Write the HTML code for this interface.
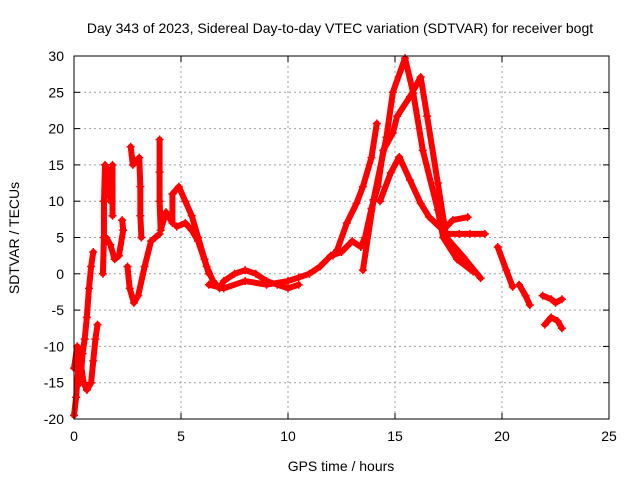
<!DOCTYPE html>
<html><head><meta charset="utf-8"><style>
body{margin:0;background:#fff;}
svg{display:block;font-family:"Liberation Sans",sans-serif;}
</style></head><body>
<svg id="chart" width="640" height="480">
<text x="340" y="33" text-anchor="middle" font-size="14">Day 343 of 2023, Sidereal Day-to-day VTEC variation (SDTVAR) for receiver bogt</text>
<text x="341" y="471" text-anchor="middle" font-size="14">GPS time / hours</text>
<text x="19" y="238" text-anchor="middle" font-size="14" transform="rotate(-90 19 238)">SDTVAR / TECUs</text>
<g id="grid"></g><g id="series"></g>
<rect x="74" y="56" width="535" height="363" fill="none" stroke="#000" stroke-width="1"/>
</svg>
<script>
const xTicks=[0,5,10,15,20,25];
const yTicks=[-20,-15,-10,-5,0,5,10,15,20,25,30];
const segA=[[0,-19.5],[0.1,-17],[0.2,-13],[0.3,-15],[0.4,-11],[0.5,-9],[0.6,-6],[0.7,-2],[0.8,1],[0.9,3]];
const segB=[[0,-13],[0.15,-10],[0.3,-12],[0.45,-15],[0.6,-16],[0.8,-15],[0.9,-12],[1.0,-9],[1.1,-7]];
const segC=[[1.35,0],[1.4,5],[1.4,10],[1.45,15],[1.6,14],[1.7,10],[1.8,15],[1.8,8]];
const segD=[[1.5,5],[1.7,4],[1.9,2],[2.1,2.5],[2.3,6],[2.25,7.4]];
const segE=[[2.5,1],[2.6,-2],[2.8,-4],[3.0,-3],[3.3,1],[3.6,4.5],[3.8,5],[4.0,5.5]];
const segF=[[2.65,17.5],[2.75,15],[3.05,16],[3.1,12],[3.1,8],[3.15,5]];
const segG=[[4.0,18.5],[4.0,14],[4.0,10],[4.05,6],[4.3,8.5],[4.6,7],[4.6,11],[4.9,12],[5.2,10],[5.5,8],[5.8,5],[6.1,2],[6.3,0]];
const segH=[[4.8,6.5],[5.2,7],[5.5,6],[5.8,4.5],[6.2,1],[6.5,-1],[6.8,-2],[7.0,-1],[7.5,0],[8.0,0.5],[8.5,0],[9.0,-1],[9.5,-1.5],[10.0,-2],[10.5,-1.5]];
const segI=[[6.3,-1.5],[7.0,-2],[8.0,-1],[9.0,-1.5],[10.0,-1],[10.5,-0.5],[11.0,0],[11.5,1],[12.0,2.5],[12.5,3],[13.0,4.5],[13.4,3.7],[13.6,5],[13.9,9],[14.2,12],[14.45,17],[14.9,19.4],[15.1,21.7],[15.7,24.4],[16.2,27.1],[16.5,21.7],[17.0,12.5],[17.4,5],[18.2,2.3],[19.0,-0.6]];
const segJ=[[13.5,0.5],[14.0,10.2],[14.6,18.8],[14.9,25],[15.47,29.7],[15.85,24.9],[16.3,17],[17.0,8.8],[17.25,5],[17.9,2],[18.65,0.3]];
const segK=[[14.3,10],[14.8,13.9],[15.2,16.1],[15.7,12.9],[16.2,9.7],[16.6,7.8],[17.25,6],[17.7,7.4],[18.4,7.8]];
const segL=[[12.1,2.5],[12.3,3.3],[12.75,7],[13.2,9.7],[13.5,12],[13.9,16],[14.15,20.7]];
const segM=[[17.4,5.5],[18.0,5.5],[18.5,5.5],[19.2,5.5]];
const segN=[[19.8,3.7],[20.2,0.5],[20.5,-1.8]];
const segO=[[20.8,-1.5],[21.1,-3],[21.3,-4.3]];
const segP=[[21.9,-3],[22.3,-3.5],[22.5,-4],[22.8,-3.5]];
const segQ=[[22.0,-7],[22.3,-6],[22.6,-6.5],[22.8,-7.5]];
const allSegs=[segA,segB,segC,segD,segE,segF,segG,segH,segI,segJ,segK,segL,segM,segN,segO,segP,segQ];
const NS='http://www.w3.org/2000/svg';
const X=v=>74+v*535/25, Y=v=>419-(v+20)*363/50;
const grid=document.getElementById('grid'), ser=document.getElementById('series');
function mk(tag,attrs,parent){const e=document.createElementNS(NS,tag);for(const k in attrs)e.setAttribute(k,attrs[k]);parent.appendChild(e);return e;}
xTicks.forEach(t=>{
 const gl=mk('line',{x1:X(t),x2:X(t),y1:56,y2:419,stroke:'#a0a0a0','stroke-dasharray':'2,3'},grid);
 
 
 mk('line',{x1:X(t),x2:X(t),y1:419,y2:413,stroke:'#000'},grid);
 mk('line',{x1:X(t),x2:X(t),y1:56,y2:62,stroke:'#000'},grid);
 const tx=mk('text',{x:X(t),y:441,'text-anchor':'middle','font-size':14},grid);tx.textContent=t;
 
 
});
yTicks.forEach(t=>{
 const gl=mk('line',{x1:74,x2:609,y1:Y(t),y2:Y(t),stroke:'#a0a0a0','stroke-dasharray':'2,3'},grid);
 
 
 mk('line',{x1:74,x2:80,y1:Y(t),y2:Y(t),stroke:'#000'},grid);
 mk('line',{x1:609,x2:603,y1:Y(t),y2:Y(t),stroke:'#000'},grid);
 const tx=mk('text',{x:64,y:Y(t)+5,'text-anchor':'end','font-size':14},grid);tx.textContent=t;
 
 
});
allSegs.forEach(seg=>{
 const pl=mk('polyline',{points:seg.map(p=>X(p[0])+','+Y(p[1])).join(' '),fill:'none',stroke:'#ff0000','stroke-width':6,'stroke-linejoin':'round','stroke-linecap':'round'},ser);
 
 
 seg.forEach(p=>{
  const m=mk('path',{d:`M${X(p[0])-4},${Y(p[1])}h8M${X(p[0])},${Y(p[1])-4}v8`,stroke:'#ff0000','stroke-width':1.5},ser);
  
  
 });
});
</script>
</body></html>
